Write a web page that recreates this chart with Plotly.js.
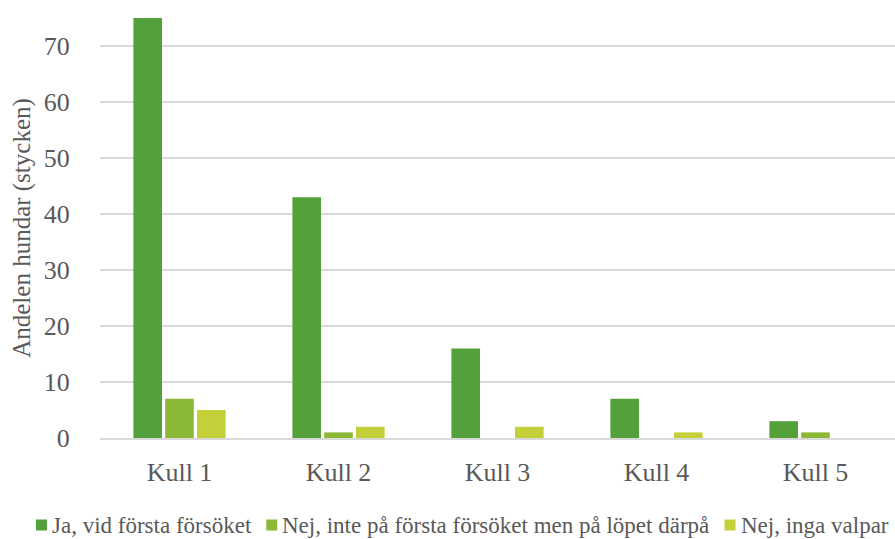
<!DOCTYPE html>
<html><head><meta charset="utf-8">
<script src="https://cdn.plot.ly/plotly-3.0.1.min.js"></script>
<style>html,body{margin:0;padding:0;background:#fff}#c{width:895px;height:539px}</style>
</head><body><div id="c"></div>
<script>
const categories = ["Kull 1", "Kull 2", "Kull 3", "Kull 4", "Kull 5"];
const seriesNames = ["Ja, vid första försöket", "Nej, inte på första försöket men på löpet därpå", "Nej, inga valpar"];
const jaVid = [75, 43, 16, 7, 3];
const nejLopet = [7, 1, 0, 0, 1];
const nejInga = [5, 2, 2, 1, 0];
const colors = ["#54a03a", "#8bb835", "#c3d03a"];
const tickVals = [0, 10, 20, 30, 40, 50, 60, 70];

const fam = "'Liberation Serif', 'Times New Roman', serif";
const W = 895, H = 539, M = {l: 100, r: 0, t: 18, b: 101};
const pw = W - M.l - M.r, ph = H - M.t - M.b;
const data = [jaVid, nejLopet, nejInga].map((v, i) => ({
  type: "bar", x: categories, y: v, name: seriesNames[i],
  marker: {color: colors[i]}
}));

// custom legend laid out in one line like the reference
const legSize = 23;
const ctx = document.createElement("canvas").getContext("2d");
ctx.font = legSize + "px " + fam;
const box = 11, boxGap = 4, itemGap = 16;
const widths = seriesNames.map(s => ctx.measureText(s).width);
const total = widths.reduce((a, b) => a + b, 0) + seriesNames.length * (box + boxGap) + (seriesNames.length - 1) * itemGap;
let px = (W - total) / 2 + 14;
const legY = 525;
const toPX = x => (x - M.l) / pw;
const toPY = y => (H - M.b - y) / ph;
const shapes = [], annotations = [];
seriesNames.forEach((s, i) => {
  shapes.push({type: "rect", xref: "paper", yref: "paper", x0: toPX(px), x1: toPX(px + box),
    y0: toPY(legY + box / 2), y1: toPY(legY - box / 2), fillcolor: colors[i], line: {width: 0}});
  px += box + boxGap;
  annotations.push({xref: "paper", yref: "paper", x: toPX(px), y: toPY(legY), xanchor: "left", yanchor: "middle",
    text: s, showarrow: false, font: {family: fam, size: legSize, color: "#595959"}, borderpad: 0});
  px += widths[i] + itemGap;
});

Plotly.newPlot("c", data, {
  width: W, height: H,
  margin: M,
  barmode: "group", bargap: 0.4, bargroupgap: 0.1,
  paper_bgcolor: "#fff", plot_bgcolor: "#fff",
  font: {family: fam, color: "#595959", size: 21},
  xaxis: {showgrid: false, showline: true, linecolor: "#d9d9d9", linewidth: 1.5, ticks: "outside", ticklen: 10, tickcolor: "rgba(0,0,0,0)",
    tickfont: {family: fam, size: 26, color: "#595959"}, automargin: false},
  yaxis: {range: [0, 75], tickvals: tickVals, gridcolor: "#d9d9d9", gridwidth: 1.5, zeroline: false,
    showline: false, ticks: "outside", ticklen: 24, tickcolor: "rgba(0,0,0,0)",
    tickfont: {family: fam, size: 26, color: "#595959"}, automargin: true,
    title: {text: "Andelen hundar (stycken)", font: {family: fam, size: 25, color: "#595959"}, standoff: 6}},
  shapes: shapes, annotations: annotations,
  showlegend: false
}, {displayModeBar: false, staticPlot: true});
</script></body></html>
